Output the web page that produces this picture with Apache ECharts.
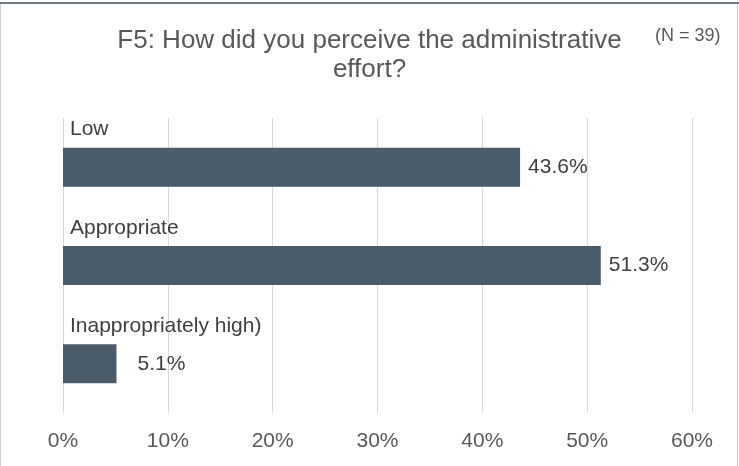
<!DOCTYPE html>
<html>
<head>
<meta charset="utf-8">
<script src="https://cdn.jsdelivr.net/npm/echarts@6/dist/echarts.min.js"></script>
<style>
  html, body { margin: 0; padding: 0; background: #fff; }
  #chart { width: 739px; height: 466px; }
</style>
</head>
<body>
<div id="chart"></div>
<script>
// Survey answers, top to bottom
const categories = ['Low', 'Appropriate', 'Inappropriately high)'];
const shares = [43.6, 51.3, 5.1];
const axisTicks = [0, 10, 20, 30, 40, 50, 60];

const FONT = '"Liberation Sans", Arial, sans-serif';
const chart = echarts.init(document.getElementById('chart'));

chart.setOption({
  animation: false,
  backgroundColor: '#ffffff',
  title: [
    {
      text: 'F5: How did you perceive the administrative\neffort?',
      left: 'center',
      top: 21,
      textStyle: { fontFamily: FONT, fontSize: 26, fontWeight: 'normal', color: '#595959', lineHeight: 29 }
    },
    {
      text: '(N = 39)',
      left: 650,
      top: 22,
      textStyle: { fontFamily: FONT, fontSize: 18, fontWeight: 'normal', color: '#595959', lineHeight: 18 }
    }
  ],
  grid: { left: 63, right: 47, top: 118, bottom: 53 },
  xAxis: {
    type: 'value',
    min: axisTicks[0],
    max: axisTicks[axisTicks.length - 1],
    interval: axisTicks[1] - axisTicks[0],
    axisLine: { show: false },
    axisTick: { show: false },
    splitLine: { lineStyle: { color: '#d9d9d9', width: 1 } },
    axisLabel: { formatter: '{value}%', fontFamily: FONT, fontSize: 21, color: '#595959', margin: 18 }
  },
  yAxis: {
    type: 'category',
    inverse: true,
    data: categories,
    axisLine: { show: false },
    axisTick: { show: false },
    axisLabel: {
      inside: true,
      margin: 7,
      verticalAlign: 'bottom',
      padding: [0, 0, 27, 0],
      fontFamily: FONT,
      fontSize: 21,
      color: '#404040'
    },
    z: 10
  },
  series: [{
    type: 'bar',
    barWidth: 39,
    itemStyle: { color: '#4a5b69' },
    label: {
      show: true,
      position: 'right',
      distance: 8,
      formatter: p => p.value.toFixed(1) + '%',
      fontFamily: FONT,
      fontSize: 21,
      color: '#404040'
    },
    data: shares.map((v, i) => (i === 2 ? { value: v, label: { distance: 21 } } : v))
  }],
  graphic: [
    { type: 'rect', shape: { x: 0.5, y: 2.5, width: 737, height: 470 }, style: { fill: 'none', stroke: '#d0d0d0', lineWidth: 1 }, silent: true },
    { type: 'rect', shape: { x: 0, y: 2, width: 739, height: 2 }, style: { fill: '#6f7b85' }, silent: true }
  ]
});
</script>
</body>
</html>
